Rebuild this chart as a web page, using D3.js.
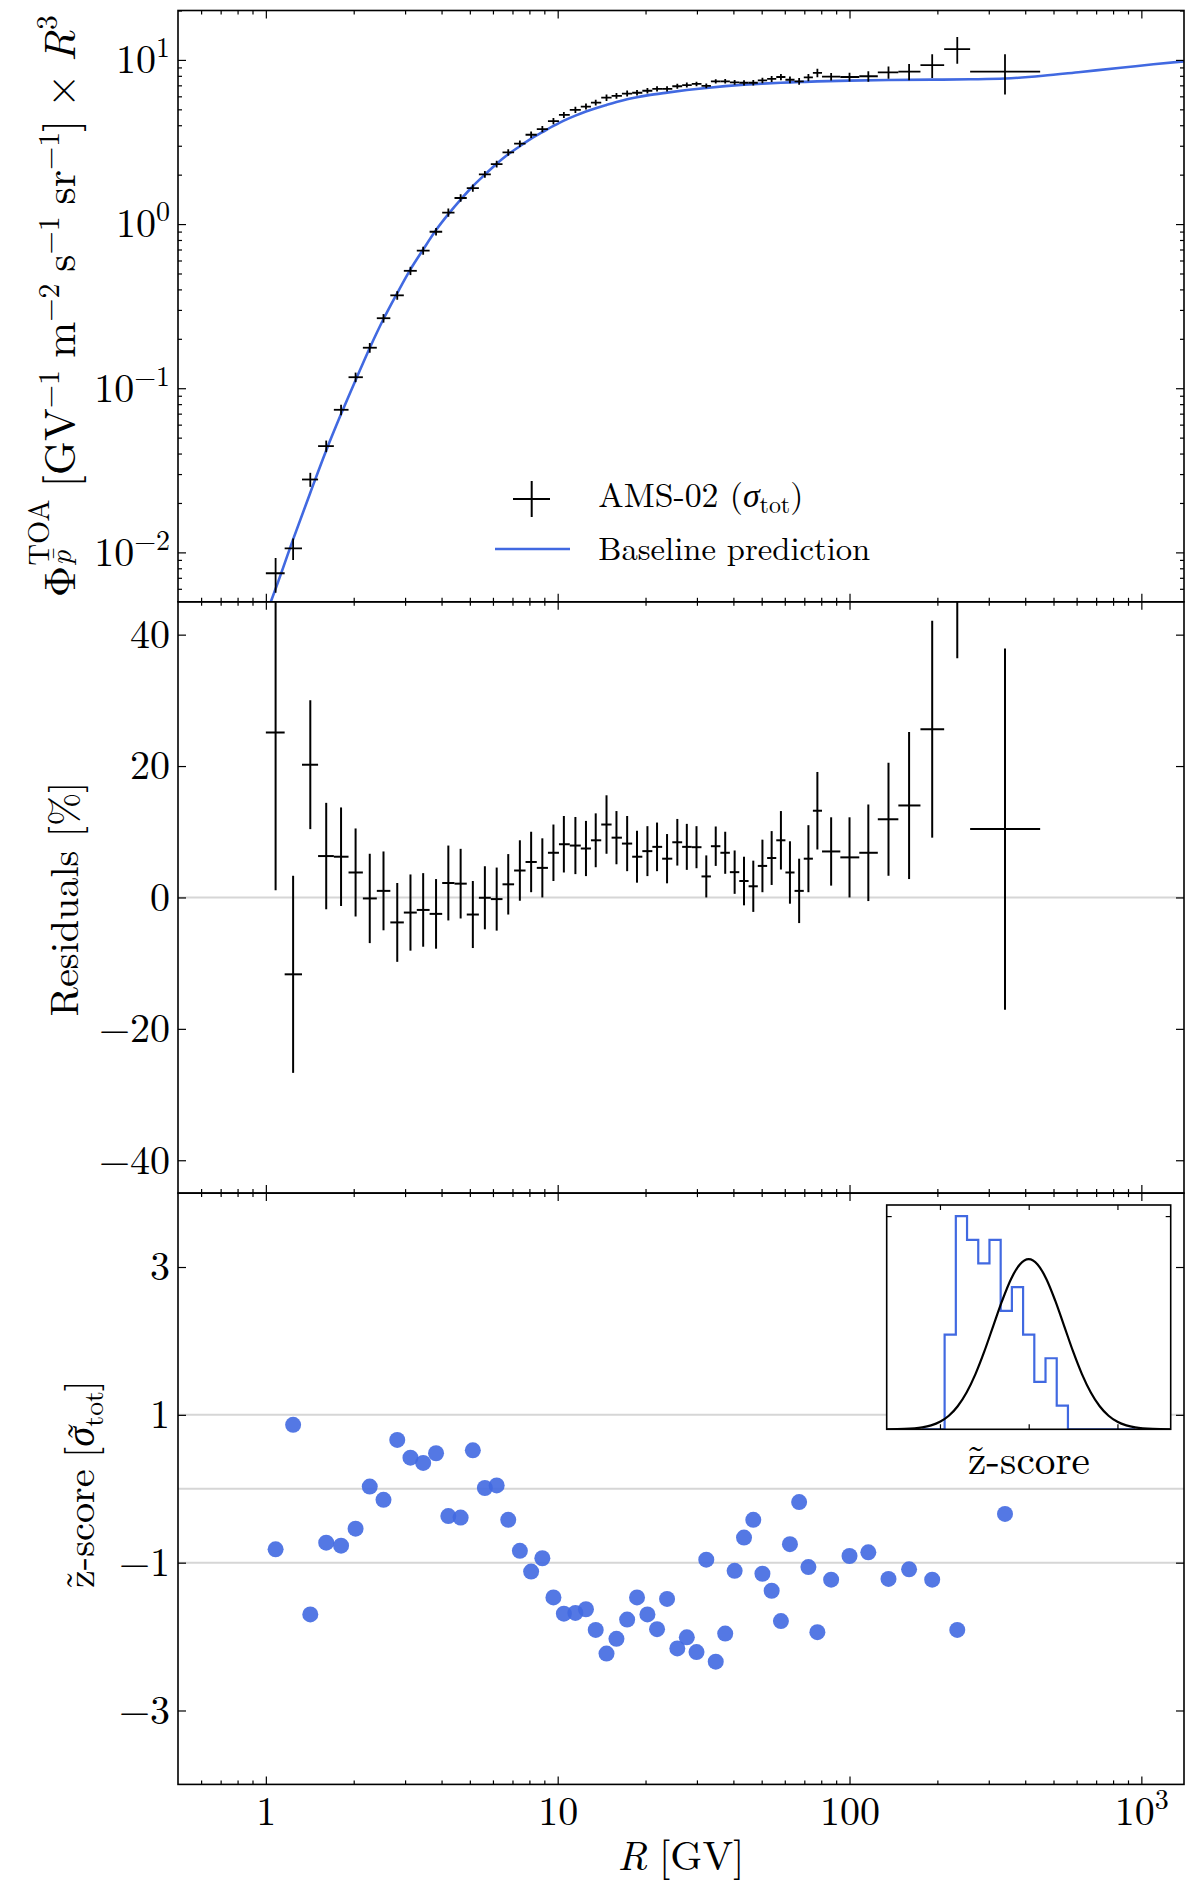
<!DOCTYPE html>
<html>
<head>
<meta charset="utf-8">
<script src="https://cdn.jsdelivr.net/npm/d3@7"></script>
<style>
  body { margin: 0; background: #fff; }
  svg { display: block; }
</style>
</head>
<body>
<div class="chart"></div>
<script>
const WIDTH = 1185;
const HEIGHT = 1883;
const LEFT = 178;
const RIGHT = 1184;
const TOP0 = 10.5;
const PANEL_H = 591.3;
const MAJOR = 8;
const MINOR = 4;
const BLUE = '#4169e1';

// AMS-02 rigidity bins (GV)
const binEdges = [1.00, 1.16, 1.33, 1.51, 1.71, 1.92, 2.15, 2.40, 2.67, 2.97, 3.29, 3.64, 4.02, 4.43, 4.88,
  5.37, 5.90, 6.47, 7.09, 7.76, 8.48, 9.26, 10.1, 11.0, 12.0, 13.0, 14.1, 15.3, 16.6, 18.0, 19.5, 21.1,
  22.8, 24.7, 26.7, 28.8, 31.1, 33.5, 36.1, 38.9, 41.9, 45.1, 48.5, 52.2, 56.1, 60.3, 64.8, 69.7, 74.9,
  80.5, 93.0, 108, 125, 147, 175, 211, 259, 450];
const rigidity = [1.08, 1.24, 1.42, 1.61, 1.81, 2.03, 2.27, 2.53, 2.82, 3.13, 3.46, 3.83, 4.22, 4.65, 5.12,
  5.63, 6.18, 6.77, 7.42, 8.11, 8.86, 9.67, 10.5, 11.5, 12.5, 13.5, 14.7, 15.9, 17.3, 18.7, 20.3, 21.9,
  23.7, 25.7, 27.7, 29.9, 32.3, 34.8, 37.5, 40.4, 43.5, 46.8, 50.3, 54.1, 58.2, 62.5, 67.2, 72.3, 77.6,
  86.5, 100, 116, 136, 160, 192, 234, 341];

// flux x R^3
const fluxR3 = [0.00746, 0.01057, 0.0278, 0.0444, 0.0739, 0.1167, 0.1765, 0.267, 0.368, 0.519, 0.690,
  0.898, 1.175, 1.442, 1.656, 2.01, 2.32, 2.73, 3.09, 3.50, 3.79, 4.24, 4.62, 4.96, 5.2, 5.5, 5.89, 6.04,
  6.24, 6.31, 6.49, 6.66, 6.66, 6.91, 7.03, 7.14, 6.95, 7.41, 7.41, 7.30, 7.26, 7.26, 7.50, 7.66, 7.87,
  7.57, 7.41, 7.82, 8.34, 7.91, 7.87, 7.95, 8.39, 8.48, 9.29, 11.64, 8.48];

// residuals [%] and their errors
const residual = [25.1, -11.7, 20.2, 6.3, 6.2, 3.8, -0.15, 1.0, -3.8, -2.3, -1.9, -2.5, 2.2, 2.1, -2.6,
  -0.05, -0.25, 2.0, 4.1, 5.4, 4.5, 6.8, 8.1, 7.9, 7.45, 8.7, 11.1, 9.1, 8.2, 6.2, 7.05, 7.7, 5.9, 8.4,
  7.7, 7.65, 3.2, 7.8, 6.8, 3.85, 2.5, 1.7, 4.8, 6.0, 8.7, 3.8, 1.0, 5.9, 13.2, 7.0, 6.1, 6.8, 11.9,
  14.0, 25.6, 55.0, 10.4];
const residualErr = [24.0, 15.0, 9.8, 8.1, 7.5, 6.7, 6.8, 6.0, 6.0, 5.8, 5.6, 5.3, 5.7, 5.3, 5.1, 4.8,
  4.8, 4.6, 4.6, 4.6, 4.5, 4.3, 4.3, 4.35, 4.2, 4.1, 4.45, 4.05, 4.2, 3.95, 3.8, 3.7, 3.75, 3.55, 3.5,
  3.2, 3.2, 3.0, 3.2, 3.3, 3.7, 3.9, 4.0, 4.1, 4.45, 4.75, 4.9, 5.1, 5.9, 5.2, 6.1, 7.35, 8.6, 11.2,
  16.5, 18.6, 27.5];

// z-scores
const zScore = [-0.82, 0.865, -1.70, -0.73, -0.77, -0.54, 0.03, -0.15, 0.66, 0.42, 0.35, 0.48, -0.37,
  -0.39, 0.52, 0.01, 0.045, -0.42, -0.84, -1.12, -0.94, -1.47, -1.69, -1.68, -1.63, -1.91, -2.23, -2.03,
  -1.77, -1.47, -1.70, -1.90, -1.49, -2.16, -2.01, -2.21, -0.96, -2.34, -1.96, -1.11, -0.66, -0.42,
  -1.15, -1.38, -1.79, -0.75, -0.18, -1.06, -1.94, -1.23, -0.91, -0.86, -1.22, -1.09, -1.23, -1.91, -0.34];

// baseline prediction curve
const modelR = [1.04, 1.08, 1.24, 1.42, 1.61, 1.81, 2.03, 2.27, 2.53, 2.82, 3.13, 3.46, 3.83, 4.22, 4.65,
  5.12, 5.63, 6.18, 6.77, 7.42, 8.11, 8.86, 9.67, 10.5, 11.5, 12.5, 13.5, 14.7, 15.9, 17.3, 18.7, 20.3,
  23.7, 27.7, 32.3, 37.5, 43.5, 50.3, 58.2, 67.2, 77.6, 100, 136, 192, 260, 341, 460, 620, 850, 1100, 1400];
const modelFlux = [0.005, 0.0060, 0.0120, 0.0231, 0.0418, 0.0696, 0.112, 0.176, 0.264, 0.380, 0.53, 0.70,
  0.92, 1.15, 1.41, 1.70, 2.00, 2.33, 2.66, 2.98, 3.32, 3.63, 3.96, 4.27, 4.58, 4.85, 5.08, 5.32, 5.54,
  5.76, 5.93, 6.08, 6.32, 6.55, 6.75, 6.92, 7.06, 7.17, 7.26, 7.33, 7.40, 7.48, 7.54, 7.58, 7.62, 7.70,
  8.0, 8.45, 8.95, 9.4, 9.8];

// inset histogram (19 bins over [-3, 3]) and unit gaussian
const histRange = [-3, 3];
const histCounts = [0, 0, 4, 9, 8, 7, 8, 5, 6, 4, 2, 3, 1, 0, 0, 0, 0, 0, 0];
const gaussZ = [-4, -3.5, -3, -2.75, -2.5, -2.25, -2, -1.75, -1.5, -1.25, -1, -0.75, -0.5, -0.25, 0,
  0.25, 0.5, 0.75, 1, 1.25, 1.5, 1.75, 2, 2.25, 2.5, 2.75, 3, 3.5, 4];
const gaussPdf = [0.0001, 0.0009, 0.0044, 0.0091, 0.0175, 0.0317, 0.054, 0.0863, 0.1295, 0.1826, 0.242,
  0.3011, 0.3521, 0.3867, 0.3989, 0.3867, 0.3521, 0.3011, 0.242, 0.1826, 0.1295, 0.0863, 0.054, 0.0317,
  0.0175, 0.0091, 0.0044, 0.0009, 0.0001];

// ticks
const xMajor = [1, 10, 100, 1000];
const xTickText = ['1', '10', '100', '10^3'];
const xMinor = [0.6, 0.7, 0.8, 0.9, 2, 3, 4, 5, 6, 7, 8, 9, 20, 30, 40, 50, 60, 70, 80, 90,
  200, 300, 400, 500, 600, 700, 800, 900];
const fluxTicks = [0.01, 0.1, 1, 10];
const fluxTickText = ['10^\u22122', '10^\u22121', '10^0', '10^1'];
const fluxMinor = [0.006, 0.007, 0.008, 0.009, 0.02, 0.03, 0.04, 0.05, 0.06, 0.07, 0.08, 0.09,
  0.2, 0.3, 0.4, 0.5, 0.6, 0.7, 0.8, 0.9, 2, 3, 4, 5, 6, 7, 8, 9, 20];
const resTicks = [-40, -20, 0, 20, 40];
const resTickText = ['\u221240', '\u221220', '0', '20', '40'];
const zTicks = [-3, -1, 1, 3];
const zTickText = ['\u22123', '\u22121', '1', '3'];
const zGrid = [-1, 0, 1];

// use the first serif face that is really installed
const SERIF_CANDIDATES = ['Latin Modern Roman', 'CMU Serif', 'Liberation Serif', 'DejaVu Serif'];
var fontExists = function (name) {
    const ctx = document.createElement('canvas').getContext('2d');
    const probe = 'mmmmmmmmmmlli10WQ@#%';
    return ['monospace', 'sans-serif', 'serif'].some(function (b) {
        ctx.font = '40px ' + b;
        const w0 = ctx.measureText(probe).width;
        ctx.font = '40px "' + name + '", ' + b;
        return Math.abs(ctx.measureText(probe).width - w0) > 0.01;
    });
};
const foundFonts = SERIF_CANDIDATES.filter(fontExists);
const FONT = (foundFonts.length ? '"' + foundFonts[0] + '", ' : '') + 'serif';

var translate = function (x, y) {
    return "translate(" + x + "," + y + ")";
};

const panels = [0, 1, 2].map(function (i) {
    return { top: TOP0 + i * PANEL_H, bottom: TOP0 + (i + 1) * PANEL_H };
});

const _svg = d3.select('.chart').append('svg')
    .attr('width', WIDTH)
    .attr('height', HEIGHT)
    .style('font-family', FONT);

const _x = d3.scaleLog().domain([0.5, 1400]).range([LEFT, RIGHT]);
const _yFlux = d3.scaleLog().domain([0.005, 20]).range([panels[0].bottom, panels[0].top]);
const _yRes = d3.scaleLinear().domain([-45, 45]).range([panels[1].bottom, panels[1].top]);
const _yZ = d3.scaleLinear().domain([-4, 4]).range([panels[2].bottom, panels[2].top]);

const defs = _svg.append('defs');
panels.forEach(function (p, i) {
    defs.append('clipPath').attr('id', 'clip' + i)
        .append('rect')
        .attr('x', LEFT).attr('y', p.top)
        .attr('width', RIGHT - LEFT).attr('height', p.bottom - p.top);
});

const points = rigidity.map(function (r, i) {
    return { r: r, lo: binEdges[i], hi: binEdges[i + 1], f: fluxR3[i],
             res: residual[i], err: residualErr[i], z: zScore[i] };
});

// turn "10^3" style labels into base + superscript
var applySuper = function (sel, supSize, rise) {
    sel.each(function () {
        const t = d3.select(this);
        const s = t.text();
        if (s.indexOf('^') < 0) return;
        const parts = s.split('^');
        t.text(null);
        t.append('tspan').text(parts[0]);
        t.append('tspan').attr('dy', -rise).attr('font-size', supSize).text(parts[1]);
    });
};

var styleAxis = function (g) {
    g.attr('font-family', FONT).attr('font-size', 40);
    g.select('.domain').remove();
    g.selectAll('.tick line').attr('stroke', '#000').attr('stroke-width', 1.2);
    g.selectAll('.tick text').attr('fill', '#000');
};

var drawXAxes = function (p, withLabels) {
    [[d3.axisBottom, p.bottom], [d3.axisTop, p.top]].forEach(function (a) {
        _svg.append('g').attr('transform', translate(0, a[1]))
            .call(a[0](_x).tickValues(xMinor).tickSize(-MINOR).tickFormat(''))
            .call(styleAxis);
        const labelled = withLabels && a[0] === d3.axisBottom;
        const g = _svg.append('g').attr('transform', translate(0, a[1]))
            .call(a[0](_x).tickValues(xMajor).tickSize(-MAJOR).tickPadding(12)
                .tickFormat(function (d, i) { return labelled ? xTickText[i] : ''; }))
            .call(styleAxis);
        applySuper(g.selectAll('.tick text'), 28, 16);
    });
};

var drawYAxes = function (scale, major, labels, minor) {
    const g = _svg.append('g').attr('transform', translate(LEFT, 0))
        .call(d3.axisLeft(scale).tickValues(major).tickSize(-MAJOR).tickPadding(8)
            .tickFormat(function (d, i) { return labels[i]; }))
        .call(styleAxis);
    applySuper(g.selectAll('.tick text'), 28, 16);
    _svg.append('g').attr('transform', translate(RIGHT, 0))
        .call(d3.axisRight(scale).tickValues(major).tickSize(-MAJOR).tickFormat(''))
        .call(styleAxis);
    if (minor) {
        _svg.append('g').attr('transform', translate(LEFT, 0))
            .call(d3.axisLeft(scale).tickValues(minor).tickSize(-MINOR).tickFormat(''))
            .call(styleAxis);
        _svg.append('g').attr('transform', translate(RIGHT, 0))
            .call(d3.axisRight(scale).tickValues(minor).tickSize(-MINOR).tickFormat(''))
            .call(styleAxis);
    }
};

// text built from pieces, scaled to the length seen in the reference
var mathLabel = function (pieces, opts) {
    const outer = _svg.append('g');
    const g = outer.append('g');
    let cursor = 0, prevStart = 0, prevW = 0;
    pieces.forEach(function (p) {
        if (p.gap) { cursor += p.gap; return; }
        const start = p.stack ? prevStart : cursor;
        const t = g.append('text')
            .attr('x', start + (p.dx || 0)).attr('y', p.dy || 0)
            .attr('font-family', FONT)
            .attr('font-size', p.size)
            .attr('font-style', p.italic ? 'italic' : null)
            .attr('fill', '#000')
            .text(p.t);
        const w = t.node().getComputedTextLength();
        if (p.stack) {
            cursor = start + Math.max(prevW, w);
        } else {
            prevStart = start; prevW = w; cursor = start + w;
        }
    });
    const k = opts.length ? opts.length / cursor : 1;
    const shift = opts.anchor === 'start' ? 0 : -cursor / 2;
    outer.attr('transform', translate(opts.x, opts.y) + (opts.rotate ? ' rotate(-90)' : '') +
        ' scale(' + k + ')');
    g.attr('transform', translate(shift, 0));
};

// ---------- grid lines ----------
_svg.append('line')
    .attr('x1', LEFT).attr('x2', RIGHT)
    .attr('y1', _yRes(0)).attr('y2', _yRes(0))
    .attr('stroke', '#d6d6d6').attr('stroke-width', 2);

_svg.append('g').selectAll('line').data(zGrid).join('line')
    .attr('x1', LEFT).attr('x2', RIGHT)
    .attr('y1', function (d) { return _yZ(d); })
    .attr('y2', function (d) { return _yZ(d); })
    .attr('stroke', '#d6d6d6').attr('stroke-width', 2);

// ---------- top panel: flux ----------
const gTop = _svg.append('g').attr('clip-path', 'url(#clip0)');

gTop.append('path')
    .datum(modelR.map(function (r, i) { return [r, modelFlux[i]]; }))
    .attr('fill', 'none')
    .attr('stroke', BLUE)
    .attr('stroke-width', 2.6)
    .attr('d', d3.line()
        .x(function (d) { return _x(d[0]); })
        .y(function (d) { return _yFlux(d[1]); })
        .curve(d3.curveMonotoneX));

gTop.selectAll('line.hbar').data(points).join('line')
    .attr('class', 'hbar')
    .attr('x1', function (d) { return _x(d.lo); })
    .attr('x2', function (d) { return _x(d.hi); })
    .attr('y1', function (d) { return _yFlux(d.f); })
    .attr('y2', function (d) { return _yFlux(d.f); })
    .attr('stroke', '#000').attr('stroke-width', 1.8);

gTop.selectAll('line.vbar').data(points).join('line')
    .attr('class', 'vbar')
    .attr('x1', function (d) { return _x(d.r); })
    .attr('x2', function (d) { return _x(d.r); })
    .attr('y1', function (d) { return _yFlux(d.f * (1 - d.err / 100)); })
    .attr('y2', function (d) { return _yFlux(d.f * (1 + d.err / 100)); })
    .attr('stroke', '#000').attr('stroke-width', 1.8);

// legend
_svg.append('path')
    .attr('d', 'M513,499H550M531.7,481V517')
    .attr('stroke', '#000').attr('stroke-width', 2).attr('fill', 'none');
_svg.append('line')
    .attr('x1', 495).attr('x2', 570).attr('y1', 549).attr('y2', 549)
    .attr('stroke', BLUE).attr('stroke-width', 2.6);
mathLabel([
    { t: 'AMS-02 (', size: 34 },
    { t: '\u03c3', size: 34, italic: true },
    { t: 'tot', size: 24, dy: 6 },
    { t: ')', size: 34 }
], { x: 598.3, y: 506.7, anchor: 'start', length: 205 });
mathLabel([{ t: 'Baseline prediction', size: 34 }],
    { x: 598.3, y: 560, anchor: 'start', length: 272 });

// ---------- middle panel: residuals ----------
const gMid = _svg.append('g').attr('clip-path', 'url(#clip1)');

gMid.selectAll('line.hbar').data(points).join('line')
    .attr('class', 'hbar')
    .attr('x1', function (d) { return _x(d.lo); })
    .attr('x2', function (d) { return _x(d.hi); })
    .attr('y1', function (d) { return _yRes(d.res); })
    .attr('y2', function (d) { return _yRes(d.res); })
    .attr('stroke', '#000').attr('stroke-width', 2);

gMid.selectAll('line.vbar').data(points).join('line')
    .attr('class', 'vbar')
    .attr('x1', function (d) { return _x(d.r); })
    .attr('x2', function (d) { return _x(d.r); })
    .attr('y1', function (d) { return _yRes(d.res - d.err); })
    .attr('y2', function (d) { return _yRes(d.res + d.err); })
    .attr('stroke', '#000').attr('stroke-width', 2);

// ---------- bottom panel: z-scores ----------
const gBot = _svg.append('g').attr('clip-path', 'url(#clip2)');

gBot.selectAll('circle').data(points).join('circle')
    .attr('cx', function (d) { return _x(d.r); })
    .attr('cy', function (d) { return _yZ(d.z); })
    .attr('r', 8)
    .attr('fill', BLUE)
    .attr('fill-opacity', 0.9);

// inset histogram
const inset = { left: 886.7, right: 1170.7, top: 1205, bottom: 1429.3 };
const _xi = d3.scaleLinear().domain([-4, 4]).range([inset.left, inset.right]);
const _yi = d3.scaleLinear().domain([0, 0.526]).range([inset.bottom, inset.top]);

_svg.append('rect')
    .attr('x', inset.left).attr('y', inset.top)
    .attr('width', inset.right - inset.left).attr('height', inset.bottom - inset.top)
    .attr('fill', '#fff');

defs.append('clipPath').attr('id', 'clipInset')
    .append('rect')
    .attr('x', inset.left).attr('y', inset.top)
    .attr('width', inset.right - inset.left).attr('height', inset.bottom - inset.top);

const gInset = _svg.append('g').attr('clip-path', 'url(#clipInset)');

const binW = (histRange[1] - histRange[0]) / histCounts.length;
const nTotal = d3.sum(histCounts);
const stepPts = [[histRange[0], 0]];
histCounts.forEach(function (c, i) {
    const dens = c / (nTotal * binW);
    stepPts.push([histRange[0] + i * binW, dens]);
    stepPts.push([histRange[0] + (i + 1) * binW, dens]);
});
stepPts.push([histRange[1], 0]);

gInset.append('path')
    .datum(stepPts)
    .attr('fill', 'none')
    .attr('stroke', BLUE)
    .attr('stroke-width', 2.2)
    .attr('d', d3.line()
        .x(function (d) { return _xi(d[0]); })
        .y(function (d) { return _yi(d[1]); }));

gInset.append('path')
    .datum(gaussZ.map(function (z, i) { return [z, gaussPdf[i]]; }))
    .attr('fill', 'none')
    .attr('stroke', '#000')
    .attr('stroke-width', 2.2)
    .attr('d', d3.line()
        .x(function (d) { return _xi(d[0]); })
        .y(function (d) { return _yi(d[1]); })
        .curve(d3.curveMonotoneX));

[[d3.axisBottom, 0, inset.bottom, _xi, [-2.5, 0, 2.5]],
 [d3.axisTop, 0, inset.top, _xi, [-2.5, 0, 2.5]],
 [d3.axisLeft, inset.left, 0, _yi, [0.5]],
 [d3.axisRight, inset.right, 0, _yi, [0.5]]].forEach(function (a) {
    _svg.append('g').attr('transform', translate(a[1], a[2]))
        .call(a[0](a[3]).tickValues(a[4]).tickSize(-5).tickFormat(''))
        .call(styleAxis);
});

_svg.append('rect')
    .attr('x', inset.left).attr('y', inset.top)
    .attr('width', inset.right - inset.left).attr('height', inset.bottom - inset.top)
    .attr('fill', 'none').attr('stroke', '#000').attr('stroke-width', 1.6);

mathLabel([{ t: 'z\u0303-score', size: 40 }],
    { x: 1029, y: 1474, length: 122 });

// ---------- axes and frames ----------
drawXAxes(panels[0], false);
drawXAxes(panels[1], false);
drawXAxes(panels[2], true);
drawYAxes(_yFlux, fluxTicks, fluxTickText, fluxMinor);
drawYAxes(_yRes, resTicks, resTickText, null);
drawYAxes(_yZ, zTicks, zTickText, null);

panels.forEach(function (p) {
    _svg.append('rect')
        .attr('x', LEFT).attr('y', p.top)
        .attr('width', RIGHT - LEFT).attr('height', p.bottom - p.top)
        .attr('fill', 'none').attr('stroke', '#000').attr('stroke-width', 1.6);
});

// ---------- axis labels ----------
mathLabel([
    { t: '\u03a6', size: 44 },
    { t: 'TOA', size: 30, dy: -26 },
    { t: 'p\u0304', size: 30, dy: -4, italic: true, stack: true },
    { gap: 12 },
    { t: '[GV', size: 44 },
    { t: '\u22121', size: 30, dy: -16 },
    { gap: 12 },
    { t: 'm', size: 44 },
    { t: '\u22122', size: 30, dy: -16 },
    { gap: 12 },
    { t: 's', size: 44 },
    { t: '\u22121', size: 30, dy: -16 },
    { gap: 12 },
    { t: 'sr', size: 44 },
    { t: '\u22121', size: 30, dy: -16 },
    { t: ']', size: 44 },
    { gap: 12 },
    { t: '\u00d7', size: 44 },
    { gap: 12 },
    { t: 'R', size: 44, italic: true },
    { t: '3', size: 30, dy: -18 }
], { x: 75, y: (panels[0].top + panels[0].bottom) / 2, rotate: true, length: 582 });

mathLabel([{ t: 'Residuals [%]', size: 42 }],
    { x: 78, y: 899, rotate: true, length: 235 });

mathLabel([
    { t: 'z\u0303-score', size: 42 },
    { gap: 12 },
    { t: '[', size: 42 },
    { t: '\u03c3', size: 42, italic: true },
    { t: '\u02dc', size: 42, dx: 6, dy: 1, stack: true },
    { t: 'tot', size: 29, dy: 9 },
    { t: ']', size: 42 }
], { x: 94, y: 1484, rotate: true, length: 208 });

mathLabel([
    { t: 'R', size: 42, italic: true },
    { gap: 12 },
    { t: '[GV]', size: 42 }
], { x: 681, y: 1870, length: 127 });
</script>
</body>
</html>
